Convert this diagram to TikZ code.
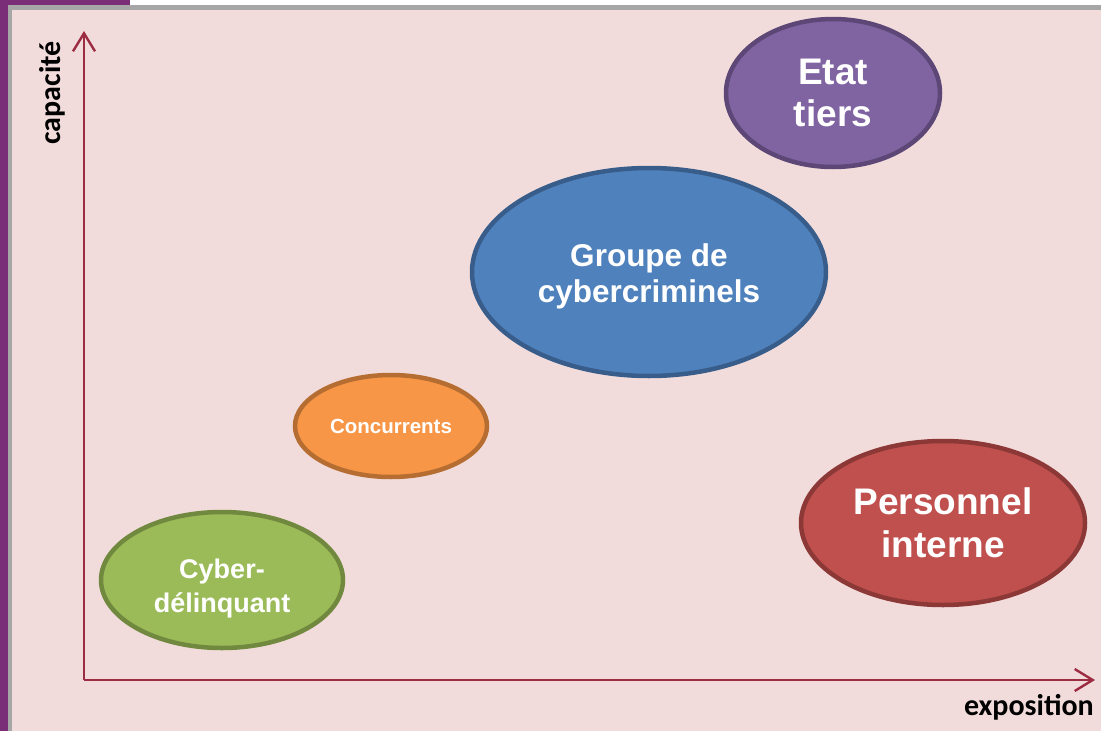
\documentclass[tikz,border=0pt]{standalone}
\usepackage{fontspec}
\setmainfont{Liberation Sans}
\newfontfamily\labfont{Carlito}
\usetikzlibrary{shapes.geometric,arrows.meta}
\definecolor{bgpink}{HTML}{F2DCDB}
\definecolor{axisred}{HTML}{9B2C42}
\definecolor{purplestrip}{HTML}{7B2E78}
\definecolor{framegray}{HTML}{A6A6A6}
\definecolor{vfill}{HTML}{8064A2}\definecolor{vline}{HTML}{5C4776}
\definecolor{bfill}{HTML}{4F81BD}\definecolor{bline}{HTML}{385D8A}
\definecolor{ofill}{HTML}{F79646}\definecolor{oline}{HTML}{B66D31}
\definecolor{gfill}{HTML}{9BBB59}\definecolor{gline}{HTML}{71893F}
\definecolor{rfill}{HTML}{C0504D}\definecolor{rline}{HTML}{8C3836}
\tikzset{
  blob/.style={ellipse, line width=4.5pt, inner sep=0pt, text=white,
    align=center, font=\bfseries},
  blobtext/.style={inner sep=0pt, text=white, align=center},
  axisline/.style={draw=axisred, line width=2.8pt,
    -{Straight Barb[length=18pt,width=22pt,line width=2.4pt]}},
  axislabel/.style={font=\labfont\bfseries\fontsize{30}{32}\selectfont, text=black, inner sep=0pt}
}
\begin{document}
\begin{tikzpicture}[x=1pt,y=-1pt]
\useasboundingbox (0,0) rectangle (1101,731);
% surroundings
\fill[white] (0,0) rectangle (1101,731);
\fill[purplestrip] (0,0) rectangle (130,10);
\fill[purplestrip] (0,0) rectangle (9,731);
\fill[framegray] (8,5) rectangle (1101,731);
\fill[bgpink] (12,10) rectangle (1101,731);
% axes
\coordinate (O) at (84,680);
\coordinate (ytop) at (84,31);
\coordinate (xend) at (1095,680);
\draw[axisline] (O) -- (ytop);
\draw[axisline] (O) -- (xend);
\node[axislabel, rotate=90] (cap) at (52,93) {capacité};
\node[axislabel, anchor=east] (expo) at (1094,707) {exposition};
% ellipses
\node[blob, fill=vfill, draw=vline, minimum width=214pt, minimum height=148pt,
  font=\bfseries\fontsize{37}{42}\selectfont] (etat) at (833,93) {Etat\\tiers};
\node[blob, fill=bfill, draw=bline, minimum width=354pt, minimum height=208pt] (groupe) at (649,272) {};
\node[blobtext, font=\bfseries\fontsize{31.5}{36}\selectfont] (groupet)
  at ([yshift=-4pt]groupe.center) {Groupe de\\cybercriminels};
\node[blob, fill=ofill, draw=oline, minimum width=192pt, minimum height=102pt,
  font=\bfseries\fontsize{20.5}{22}\selectfont] (conc) at (391,426) {Concurrents};
\node[blob, fill=gfill, draw=gline, minimum width=242pt, minimum height=136pt] (cyber) at (222,580) {};
\node[blobtext, font=\bfseries\fontsize{27}{34}\selectfont] (cybert)
  at ([yshift=-9pt]cyber.center) {Cyber-\\délinquant};
\node[blob, fill=rfill, draw=rline, minimum width=284pt, minimum height=164pt,
  font=\bfseries\fontsize{37}{43}\selectfont] (perso) at (943,523) {Personnel\\interne};
\end{tikzpicture}
\end{document}
